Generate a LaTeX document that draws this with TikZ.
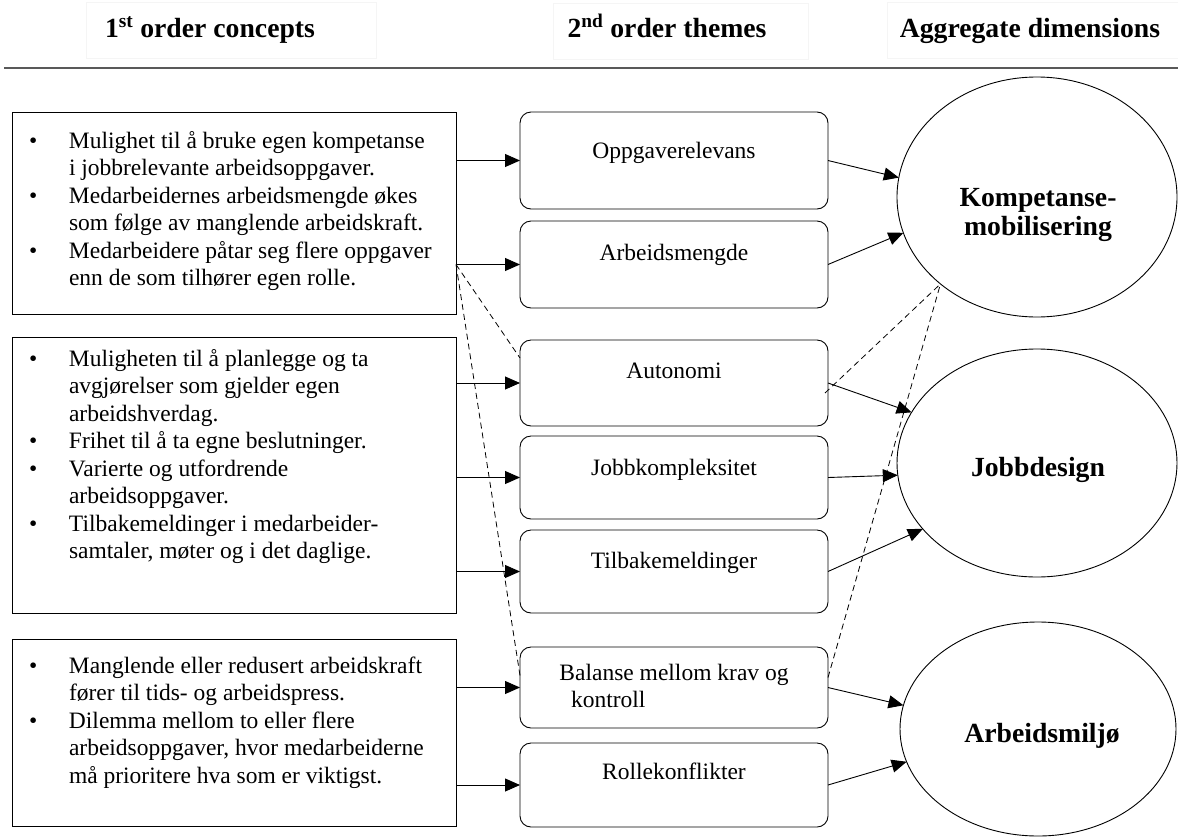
\documentclass[tikz,border=0pt]{standalone}
\usepackage{fontspec}
\setmainfont{Liberation Serif}
\usetikzlibrary{shapes.geometric,arrows.meta,calc}

\newcommand{\bodyfont}{\fontsize{23.5}{27.5}\selectfont}
\newcommand{\headfont}{\fontsize{27.7}{29}\selectfont\bfseries}
\newcommand{\itm}{\makebox[40pt][l]{\textbullet}}
\newcommand{\cnt}{\hspace*{40pt}}

\begin{document}
\begin{tikzpicture}[x=1pt,y=-1pt,
  every node/.style={inner sep=0pt, outer sep=0pt},
  conceptbox/.style={draw, line width=0.9pt, rectangle, anchor=north west, minimum width=444pt},
  themebox/.style={draw, line width=0.9pt, rectangle, rounded corners=11pt, minimum width=308pt},
  dimension/.style={draw, line width=0.9pt, ellipse},
  headbox/.style={draw=black!4, line width=0.7pt, rectangle, anchor=north west},
  bodytext/.style={font=\bodyfont},
  headtext/.style={font=\headfont},
  arr/.style={line width=0.9pt, -{Triangle[length=15pt,width=13pt]}},
  link/.style={line width=0.8pt, dash pattern=on 6pt off 4pt},
]
\useasboundingbox (0,0) rectangle (1178,836);

% column headings
\node[headbox, minimum width=290pt, minimum height=56pt] (hb1) at (86,2) {};
\node[headbox, minimum width=255pt, minimum height=56pt] (hb2) at (553,3) {};
\node[headbox, minimum width=292pt, minimum height=56pt] (hb3) at (887,2) {};
\node[headtext, anchor=base] (h1) at (210,37) {1\textsuperscript{st} order concepts};
\node[headtext, anchor=base] (h2) at (667,37) {2\textsuperscript{nd} order themes};
\node[headtext, anchor=base] (h3) at (1030,37) {Aggregate dimensions};
\coordinate (rule-l) at (4,68);
\coordinate (rule-r) at (1178,68);
\draw[line width=1.6pt, black!65] (rule-l) -- (rule-r);

% first order concepts
\node[conceptbox, minimum height=202pt] (c1) at (12,112) {};
\node[conceptbox, minimum height=276pt] (c2) at (12,337) {};
\node[conceptbox, minimum height=187pt] (c3) at (12,639) {};

\node[bodytext, anchor=base west] (c1-t) at (29,148) {%
\begin{tabular}[t]{@{}l@{}}
\itm Mulighet til å bruke egen kompetanse\\
\cnt i jobbrelevante arbeidsoppgaver.\\
\itm Medarbeidernes arbeidsmengde økes\\
\cnt som følge av manglende arbeidskraft.\\
\itm Medarbeidere påtar seg flere oppgaver\\
\cnt enn de som tilhører egen rolle.
\end{tabular}};

\node[bodytext, anchor=base west] (c2-t) at (29,366) {%
\begin{tabular}[t]{@{}l@{}}
\itm Muligheten til å planlegge og ta\\
\cnt avgjørelser som gjelder egen\\
\cnt arbeidshverdag.\\
\itm Frihet til å ta egne beslutninger.\\
\itm Varierte og utfordrende\\
\cnt arbeidsoppgaver.\\
\itm Tilbakemeldinger i medarbeider-\\
\cnt samtaler, møter og i det daglige.
\end{tabular}};

\node[bodytext, anchor=base west] (c3-t) at (29,673) {%
\begin{tabular}[t]{@{}l@{}}
\itm Manglende eller redusert arbeidskraft\\
\cnt fører til tids- og arbeidspress.\\
\itm Dilemma mellom to eller flere\\
\cnt arbeidsoppgaver, hvor medarbeiderne\\
\cnt må prioritere hva som er viktigst.
\end{tabular}};

% second order themes
\node[themebox, minimum height=97pt] (oppg) at (674,160.5) {};
\node[themebox, minimum height=87pt] (arb) at (674,264.5) {};
\node[themebox, minimum height=86pt] (auto) at (674,383) {};
\node[themebox, minimum height=83pt] (jobb) at (674,477.5) {};
\node[themebox, minimum height=83pt] (tilb) at (674,571.5) {};
\node[themebox, minimum height=81pt] (bal) at (674,687.5) {};
\node[themebox, minimum height=84pt] (rolle) at (674,785) {};

\node[bodytext, anchor=base] (oppg-t) at (674,158) {Oppgaverelevans};
\node[bodytext, anchor=base] (arb-t) at (674,260) {Arbeidsmengde};
\node[bodytext, anchor=base] (auto-t) at (674,378) {Autonomi};
\node[bodytext, anchor=base] (jobb-t) at (674,475) {Jobbkompleksitet};
\node[bodytext, anchor=base] (tilb-t) at (674,568) {Tilbakemeldinger};
\node[bodytext, anchor=base] (bal-t) at (674,680) {Balanse mellom krav og};
\node[bodytext, anchor=base west] (bal-t2) at (571,707) {kontroll};
\node[bodytext, anchor=base] (rolle-t) at (674,779) {Rollekonflikter};

% aggregate dimensions
\node[dimension, minimum width=280pt, minimum height=240pt] (komp) at (1037,197) {};
\node[dimension, minimum width=280pt, minimum height=228pt] (jd) at (1037,463) {};
\node[dimension, minimum width=276pt, minimum height=214pt] (am) at (1038,729) {};

\node[headtext, anchor=base] (komp-t) at (1038,206) {%
\begin{tabular}[t]{@{}c@{}}Kompetanse-\\mobilisering\end{tabular}};
\node[headtext, anchor=base] (jd-t) at (1038,476) {Jobbdesign};
\node[headtext, anchor=base] (am-t) at (1042,742) {Arbeidsmiljø};

% concepts -> themes
\draw[arr] (c1.east |- oppg.west) -- (oppg.west);
\draw[arr] (c1.east |- arb.west) -- (arb.west);
\draw[arr] (c2.east |- auto.west) -- (auto.west);
\draw[arr] (c2.east |- jobb.west) -- (jobb.west);
\draw[arr] (c2.east |- tilb.west) -- (tilb.west);
\draw[arr] (c3.east |- bal.west) -- (bal.west);
\draw[arr] (c3.east |- rolle.west) -- (rolle.west);

% themes -> dimensions
\draw[arr] (oppg.east) -- (komp.172.7);
\draw[arr] (arb.east) -- (komp.195.3);
\draw[arr] (auto.east) -- (jd.158.8);
\draw[arr] (jobb.east) -- (jd.185.3);
\draw[arr] (tilb.east) -- (jd.210.6);
\draw[arr] (bal.east) -- (am.170.5);
\draw[arr] (rolle.east) -- (am.194.1);

% dashed cross links
\draw[link] (c1.east |- arb.west) -- ([yshift=25pt]auto.west);
\draw[link] (c1.east |- arb.west) -- ([yshift=12pt]bal.west);
\draw[link] ([xshift=-3pt,yshift=-10pt]auto.east) -- (komp.222.3);
\draw[link] ([yshift=10pt]bal.east) -- (komp.222.3);
\end{tikzpicture}
\end{document}
